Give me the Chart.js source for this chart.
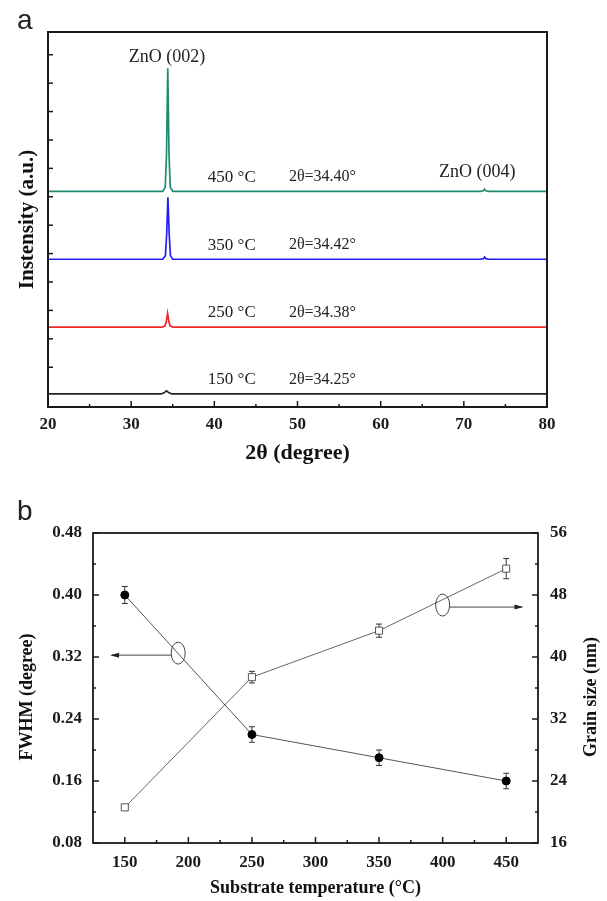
<!DOCTYPE html>
<html>
<head>
<meta charset="utf-8">
<script src="https://cdn.jsdelivr.net/npm/chart.js"></script>
<style>
  body { margin: 0; background: #fff; width: 607px; height: 901px; position: relative; overflow: hidden; }
  .box { position: absolute; left: 0; width: 607px; }
  #boxA { top: 0; height: 470px; }
  #boxB { top: 480px; height: 421px; }
  .tag { position: absolute; left: 17px; font-family: "Liberation Sans", Arial, sans-serif; font-size: 28px; color: #222; line-height: 1; }
</style>
</head>
<body>
<div class="box" id="boxA"><canvas id="chartA" width="607" height="470"></canvas></div>
<div class="box" id="boxB"><canvas id="chartB" width="607" height="421"></canvas></div>
<div class="tag" style="top:6px">a</div>
<div class="tag" style="top:497px">b</div>
<script>
// ---- panel a: XRD patterns (intensity in arbitrary, stacked units) ----
var theta450 = [20, 33.8, 34.1, 34.25, 34.4, 34.55, 34.7, 35.0, 72.0, 72.35, 72.5, 72.65, 73.0, 80];
var int450 = [7.59, 7.59, 7.74, 8.9, 11.92, 8.9, 7.74, 7.59, 7.59, 7.61, 7.67, 7.61, 7.59, 7.59];
var theta350 = [20, 33.8, 34.12, 34.27, 34.42, 34.57, 34.72, 35.0, 72.0, 72.35, 72.5, 72.65, 73.0, 80];
var int350 = [5.2, 5.2, 5.33, 6.1, 7.38, 6.1, 5.33, 5.2, 5.2, 5.22, 5.28, 5.22, 5.2, 5.2];
var theta250 = [20, 33.7, 34.05, 34.22, 34.38, 34.54, 34.7, 35.05, 80];
var int250 = [2.81, 2.81, 2.85, 3.0, 3.3, 3.0, 2.85, 2.81, 2.81];
var theta150 = [20, 33.6, 33.95, 34.25, 34.55, 34.9, 80];
var int150 = [0.46, 0.46, 0.5, 0.57, 0.5, 0.46, 0.46];

var tempLabels = ["450 °C", "350 °C", "250 °C", "150 °C"];
var peakLabels = ["2θ=34.40°", "2θ=34.42°", "2θ=34.38°", "2θ=34.25°"];
var baseLevels = [7.59, 5.2, 2.81, 0.46];
var lineColors = ["#1f8a70", "#2020f0", "#f02828", "#222222"];

var xTicksA = [20, 30, 40, 50, 60, 70, 80];
var xMinorA = [25, 35, 45, 55, 65, 75];
var yTicksA = [1.4, 2.4, 3.4, 4.4, 5.4, 6.4, 7.4, 8.4, 9.4, 10.4, 11.4, 12.4];

// ---- panel b: FWHM and grain size vs substrate temperature ----
var temps = [150, 250, 350, 450];
var fwhm = [0.40, 0.22, 0.19, 0.16];
var fwhmErr = [0.011, 0.01, 0.01, 0.01];
var grain = [20.6, 37.4, 43.4, 51.4];
var grainErr = [0.3, 0.75, 0.85, 1.3];

var xTicksB = [150, 200, 250, 300, 350, 400, 450];
var xMinorB = [175, 225, 275, 325, 375, 425];
var yTicksB = [0.08, 0.16, 0.24, 0.32, 0.40, 0.48];
var yMinorB = [0.12, 0.20, 0.28, 0.36, 0.44];
var y2TicksB = [16, 24, 32, 40, 48, 56];
var y2MinorB = [20, 28, 36, 44, 52];

var serif = "'Liberation Serif', 'Times New Roman', serif";
Chart.defaults.font.family = serif;
Chart.defaults.color = "#1a1a1a";

function pts(xs, ys) {
  return xs.map(function (x, i) { return { x: x, y: ys[i] }; });
}
function fixTicks(vals) {
  return function (s) { s.ticks = vals.map(function (v) { return { value: v }; }); };
}

// box around the plot and inward tick marks
var framePlugin = {
  id: "frame",
  afterDatasetsDraw: function (chart, args, opts) {
    var ctx = chart.ctx, a = chart.chartArea;
    ctx.save();
    ctx.strokeStyle = "#1a1a1a";
    ctx.lineWidth = 1.5;
    (opts.ticks || []).forEach(function (t) {
      var sc = chart.scales[t.scale];
      t.values.forEach(function (v) {
        var p = sc.getPixelForValue(v);
        ctx.beginPath();
        if (t.side === "bottom") { ctx.moveTo(p, a.bottom); ctx.lineTo(p, a.bottom - t.len); }
        else if (t.side === "left") { ctx.moveTo(a.left, p); ctx.lineTo(a.left + t.len, p); }
        else { ctx.moveTo(a.right, p); ctx.lineTo(a.right - t.len, p); }
        ctx.stroke();
      });
    });
    ctx.lineWidth = opts.width;
    ctx.strokeRect(a.left, a.top, a.right - a.left, a.bottom - a.top);
    ctx.restore();
  }
};

// text notes placed in data coordinates
var notePlugin = {
  id: "notes",
  afterDatasetsDraw: function (chart, args, opts) {
    var ctx = chart.ctx;
    ctx.save();
    ctx.fillStyle = "#222";
    ctx.textAlign = "center";
    ctx.textBaseline = "middle";
    (opts.items || []).forEach(function (it) {
      ctx.font = it.size + "px " + serif;
      ctx.fillText(it.text, chart.scales.x.getPixelForValue(it.x), chart.scales.y.getPixelForValue(it.y));
    });
    ctx.restore();
  }
};

var notes = [
  { text: "ZnO (002)", x: 34.3, y: 12.3, size: 18 },
  { text: "ZnO (004)", x: 71.6, y: 8.25, size: 18 }
];
baseLevels.forEach(function (b, i) {
  notes.push({ text: tempLabels[i], x: 42.1, y: b + 0.5, size: 17 });
  notes.push({ text: peakLabels[i], x: 53, y: b + 0.5, size: 16 });
});

var datasetsA = [
  [theta450, int450], [theta350, int350], [theta250, int250], [theta150, int150]
].map(function (s, i) {
  return {
    label: tempLabels[i],
    data: pts(s[0], s[1]),
    borderColor: lineColors[i],
    borderWidth: 1.7,
    pointRadius: 0,
    tension: 0
  };
});

new Chart(document.getElementById("chartA"), {
  type: "line",
  data: { datasets: datasetsA },
  options: {
    responsive: false,
    animation: false,
    layout: { padding: { top: 32, right: 60, left: 0, bottom: 0 } },
    plugins: {
      legend: { display: false },
      tooltip: { enabled: false },
      frame: {
        width: 2,
        ticks: [
          { scale: "x", side: "bottom", values: xTicksA, len: 6 },
          { scale: "x", side: "bottom", values: xMinorA, len: 3 },
          { scale: "y", side: "left", values: yTicksA, len: 5 }
        ]
      },
      notes: { items: notes }
    },
    scales: {
      x: {
        type: "linear", min: 20, max: 80,
        grid: { display: false, drawTicks: false },
        border: { display: false },
        afterBuildTicks: fixTicks(xTicksA),
        afterFit: function (s) { s.height = 63; },
        ticks: { padding: 7, maxRotation: 0, font: { size: 17, weight: "bold" }, color: "#1a1a1a" },
        title: {
          display: true, text: "2θ (degree)",
          font: { size: 22, weight: "bold" }, color: "#111",
          padding: { top: 0, bottom: 3 }
        }
      },
      y: {
        min: 0, max: 13.2,
        grid: { display: false, drawTicks: false },
        border: { display: false },
        ticks: { display: false },
        afterFit: function (s) { s.width = 48; },
        title: {
          display: true, text: "Instensity (a.u.)",
          font: { size: 21, weight: "bold" }, color: "#111",
          padding: { top: 15, bottom: 0 }
        }
      }
    }
  },
  plugins: [framePlugin, notePlugin]
});

// error bars, ovals with arrows and both y titles for panel b
var extrasPlugin = {
  id: "extras",
  beforeDatasetsDraw: function (chart, args, opts) {
    var ctx = chart.ctx;
    ctx.save();
    ctx.strokeStyle = "#333";
    ctx.lineWidth = 1;
    (opts.errors || []).forEach(function (e) {
      var ys = chart.scales[e.axis];
      e.xs.forEach(function (xv, i) {
        var x = chart.scales.x.getPixelForValue(xv);
        var y1 = ys.getPixelForValue(e.ys[i] + e.err[i]);
        var y2 = ys.getPixelForValue(e.ys[i] - e.err[i]);
        ctx.beginPath();
        ctx.moveTo(x, y1); ctx.lineTo(x, y2);
        ctx.moveTo(x - 3, y1); ctx.lineTo(x + 3, y1);
        ctx.moveTo(x - 3, y2); ctx.lineTo(x + 3, y2);
        ctx.stroke();
      });
    });
    ctx.restore();
  },
  afterDatasetsDraw: function (chart, args, opts) {
    var ctx = chart.ctx, a = chart.chartArea;
    ctx.save();
    ctx.strokeStyle = "#444";
    ctx.fillStyle = "#222";
    ctx.lineWidth = 1;
    (opts.ovals || []).forEach(function (o) {
      var cx = chart.scales.x.getPixelForValue(o.x);
      var cy = chart.scales[o.axis].getPixelForValue(o.y);
      var tx = chart.scales.x.getPixelForValue(o.to);
      var dir = tx < cx ? -1 : 1;
      ctx.beginPath();
      ctx.ellipse(cx, cy, 7, 11, 0, 0, Math.PI * 2);
      ctx.stroke();
      var ay = cy + 2;
      ctx.beginPath();
      ctx.moveTo(cx + dir * 7, ay);
      ctx.lineTo(tx, ay);
      ctx.stroke();
      ctx.beginPath();
      ctx.moveTo(tx + dir * 2, ay);
      ctx.lineTo(tx - dir * 7, ay - 2.5);
      ctx.lineTo(tx - dir * 7, ay + 2.5);
      ctx.closePath();
      ctx.fill();
    });
    // y titles, both reading bottom-to-top
    ctx.fillStyle = "#111";
    ctx.font = "bold 18px " + serif;
    ctx.textAlign = "center";
    ctx.textBaseline = "middle";
    var midY = (a.top + a.bottom) / 2 + 9;
    [[a.left - 66, opts.leftTitle], [a.right + 53, opts.rightTitle]].forEach(function (t) {
      ctx.save();
      ctx.translate(t[0], midY);
      ctx.rotate(-Math.PI / 2);
      ctx.fillText(t[1], 0, 0);
      ctx.restore();
    });
    ctx.restore();
  }
};

new Chart(document.getElementById("chartB"), {
  type: "line",
  data: {
    datasets: [
      {
        label: "FWHM",
        data: pts(temps, fwhm),
        yAxisID: "y",
        borderColor: "#555",
        borderWidth: 1,
        pointStyle: "circle",
        pointRadius: 4,
        pointBackgroundColor: "#000",
        pointBorderColor: "#000",
        tension: 0
      },
      {
        label: "Grain size",
        data: pts(temps, grain),
        yAxisID: "y2",
        borderColor: "#666",
        borderWidth: 1,
        pointStyle: "rect",
        pointRadius: 5,
        pointBackgroundColor: "#fff",
        pointBorderColor: "#555",
        pointBorderWidth: 1,
        tension: 0
      }
    ]
  },
  options: {
    responsive: false,
    animation: false,
    layout: { padding: { top: 53, right: 0, left: 0, bottom: 0 } },
    plugins: {
      legend: { display: false },
      tooltip: { enabled: false },
      frame: {
        width: 1.8,
        ticks: [
          { scale: "x", side: "bottom", values: xTicksB, len: 6 },
          { scale: "x", side: "bottom", values: xMinorB, len: 3 },
          { scale: "y", side: "left", values: yTicksB, len: 6 },
          { scale: "y", side: "left", values: yMinorB, len: 3 },
          { scale: "y2", side: "right", values: y2TicksB, len: 6 },
          { scale: "y2", side: "right", values: y2MinorB, len: 3 }
        ]
      },
      extras: {
        errors: [
          { axis: "y", xs: temps, ys: fwhm, err: fwhmErr },
          { axis: "y2", xs: temps, ys: grain, err: grainErr }
        ],
        ovals: [
          { x: 192, y: 0.325, axis: "y", to: 140 },
          { x: 400, y: 46.7, axis: "y2", to: 462 }
        ],
        leftTitle: "FWHM (degree)",
        rightTitle: "Grain size (nm)"
      }
    },
    scales: {
      x: {
        type: "linear", min: 125, max: 475,
        grid: { display: false, drawTicks: false },
        border: { display: false },
        afterBuildTicks: fixTicks(xTicksB),
        afterFit: function (s) { s.height = 58; },
        ticks: { padding: 9, maxRotation: 0, font: { size: 17, weight: "bold" }, color: "#1a1a1a" },
        title: {
          display: true, text: "Substrate temperature (°C)",
          font: { size: 18, weight: "bold" }, color: "#111",
          padding: { top: 0, bottom: 2 }
        }
      },
      y: {
        position: "left", min: 0.08, max: 0.48,
        grid: { display: false, drawTicks: false },
        border: { display: false },
        afterBuildTicks: fixTicks(yTicksB),
        afterFit: function (s) { s.width = 93; },
        ticks: {
          padding: 11, font: { size: 17, weight: "bold" }, color: "#1a1a1a",
          callback: function (v) { return v.toFixed(2); }
        }
      },
      y2: {
        position: "right", min: 16, max: 56,
        grid: { display: false, drawTicks: false },
        border: { display: false },
        afterBuildTicks: fixTicks(y2TicksB),
        afterFit: function (s) { s.width = 69; },
        ticks: { padding: 12, font: { size: 17, weight: "bold" }, color: "#1a1a1a" }
      }
    }
  },
  plugins: [framePlugin, extrasPlugin]
});
</script>
</body>
</html>
